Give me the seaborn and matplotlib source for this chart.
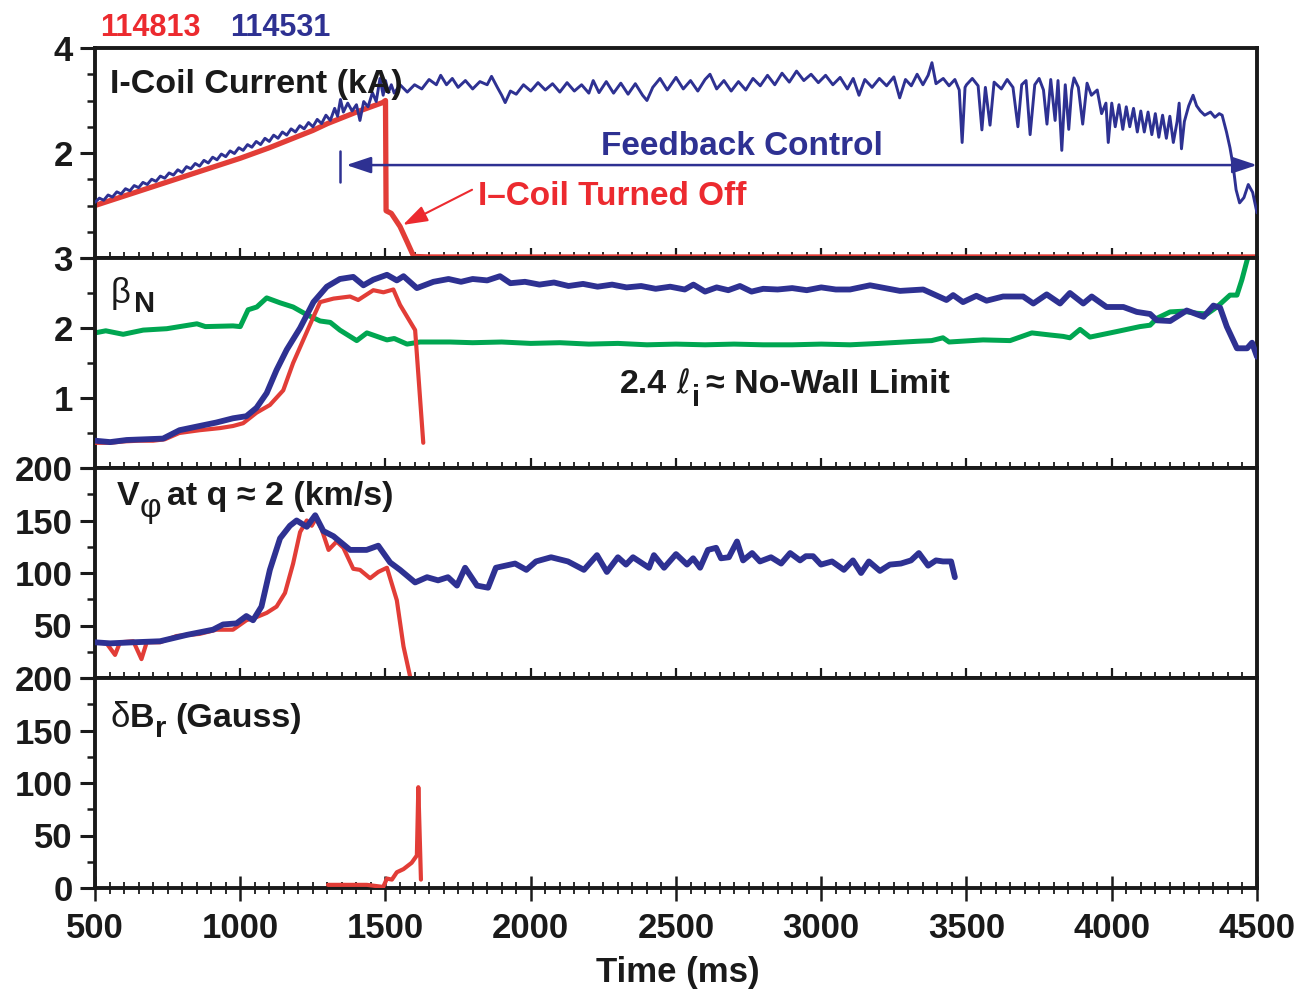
import numpy as np
import pandas as pd
import matplotlib
matplotlib.use("Agg")
import matplotlib.pyplot as plt
from matplotlib.ticker import MultipleLocator, FixedLocator, FixedFormatter
import seaborn as sns

# ---------------- data ----------------
shot_red = "114813"
shot_blue = "114531"

# Panel 1: I-coil current (kA)
icoil_red_t = [500, 550, 600, 650, 700, 750, 800, 850, 900, 950, 1000, 1050, 1100, 1150, 1200,
               1250, 1300, 1350, 1400, 1450, 1490, 1500, 1502, 1520, 1550, 1575, 1597, 1650, 4500]
icoil_red_v = [1.00, 1.09, 1.18, 1.27, 1.36, 1.45, 1.54, 1.63, 1.72, 1.81, 1.90, 2.00, 2.10, 2.21, 2.32,
               2.43, 2.56, 2.67, 2.78, 2.88, 2.96, 3.00, 0.90, 0.85, 0.60, 0.30, 0.03, 0.02, 0.02]

icoil_blue_t = [500, 515, 530, 545, 560, 575, 590, 605, 620, 635, 650, 665, 680, 695, 710, 725, 740,
                755, 770, 785, 800, 815, 830, 845, 860, 875, 890, 905, 920, 935, 950, 965, 980, 995,
                1010, 1025, 1040, 1055, 1070, 1085, 1100, 1115, 1130, 1145, 1160, 1175, 1190, 1205,
                1220, 1235, 1250, 1265, 1280, 1295, 1310, 1325, 1335, 1345, 1355, 1370, 1385, 1400,
                1412, 1425, 1440, 1455, 1468, 1481, 1492, 1500, 1510, 1520, 1530, 1550, 1575, 1600,
                1625, 1650, 1675, 1690, 1710, 1730, 1750, 1775, 1800, 1825, 1850, 1865, 1885, 1900,
                1912, 1930, 1950, 1975, 2000, 2025, 2050, 2075, 2100, 2125, 2150, 2175, 2200, 2215,
                2235, 2260, 2285, 2310, 2335, 2360, 2385, 2400, 2420, 2445, 2470, 2500, 2525, 2550,
                2575, 2600, 2617, 2640, 2665, 2690, 2715, 2740, 2765, 2790, 2815, 2840, 2865, 2890,
                2915, 2940, 2965, 2990, 3015, 3040, 3065, 3090, 3110, 3130, 3150, 3175, 3200, 3225,
                3250, 3270, 3290, 3310, 3330, 3350, 3368, 3381, 3395, 3420, 3440, 3460, 3475, 3485,
                3495, 3500, 3520, 3540, 3553, 3565, 3581, 3595, 3620, 3640, 3660, 3677, 3690, 3705,
                3719, 3735, 3750, 3765, 3777, 3790, 3805, 3815, 3828, 3840, 3852, 3862, 3870, 3885,
                3900, 3915, 3930, 3950, 3965, 3980, 3988, 4000, 4012, 4025, 4038, 4050, 4062, 4075,
                4088, 4100, 4112, 4125, 4138, 4150, 4162, 4175, 4188, 4200, 4212, 4225, 4232, 4240,
                4250, 4265, 4280, 4292, 4305, 4320, 4340, 4355, 4370, 4380, 4395, 4407, 4418, 4428,
                4440, 4455, 4470, 4485, 4500]
icoil_blue_v = [1.06, 1.14, 1.10, 1.20, 1.16, 1.26, 1.22, 1.32, 1.28, 1.38, 1.34, 1.44, 1.40, 1.50, 1.46, 1.56, 1.52,
                1.62, 1.58, 1.68, 1.63, 1.74, 1.70, 1.80, 1.75, 1.86, 1.81, 1.92, 1.87, 1.98, 1.93, 2.04, 1.99, 2.10,
                2.05, 2.16, 2.11, 2.22, 2.16, 2.28, 2.22, 2.34, 2.28, 2.40, 2.34, 2.46, 2.40, 2.52,
                2.46, 2.58, 2.50, 2.64, 2.56, 2.72, 2.62, 2.85, 2.70, 3.02, 2.78, 2.95, 2.80, 2.92,
                2.62, 2.98, 2.88, 3.15, 2.98, 3.42, 3.10, 3.38, 3.15, 3.30, 3.14, 3.30, 3.16, 3.30,
                3.22, 3.40, 3.30, 3.48, 3.30, 3.42, 3.25, 3.38, 3.22, 3.36, 3.30, 3.46, 3.25, 3.10,
                2.96, 3.18, 3.12, 3.30, 3.18, 3.34, 3.20, 3.32, 3.16, 3.34, 3.18, 3.30, 3.14, 3.38,
                3.15, 3.36, 3.14, 3.33, 3.12, 3.32, 3.10, 3.00, 3.25, 3.42, 3.20, 3.44, 3.22, 3.38,
                3.18, 3.40, 3.50, 3.22, 3.38, 3.18, 3.36, 3.20, 3.42, 3.28, 3.48, 3.30, 3.52, 3.35,
                3.56, 3.38, 3.50, 3.34, 3.48, 3.30, 3.44, 3.22, 3.42, 3.10, 3.40, 3.25, 3.42, 3.28,
                3.45, 3.05, 3.40, 3.28, 3.50, 3.30, 3.48, 3.72, 3.32, 3.42, 3.28, 3.40, 3.20, 2.20,
                3.25, 3.30, 3.42, 3.28, 2.44, 3.25, 2.53, 3.35, 3.22, 3.40, 3.25, 2.50, 3.30, 3.38,
                2.35, 3.30, 3.42, 3.20, 2.55, 3.40, 2.62, 3.38, 2.05, 3.30, 2.45, 3.20, 3.43, 3.25,
                2.55, 3.33, 3.10, 3.20, 2.75, 2.95, 2.20, 2.95, 2.50, 2.92, 2.45, 2.88, 2.50, 2.85,
                2.40, 2.80, 2.40, 2.78, 2.35, 2.75, 2.30, 2.72, 2.28, 2.70, 2.20, 2.60, 2.95, 2.08,
                2.60, 2.90, 3.10, 2.90, 2.80, 2.72, 2.78, 2.68, 2.75, 2.72, 2.40, 2.10, 1.75, 1.30,
                1.05, 1.15, 1.40, 1.25, 0.86]

# Panel 2: beta_N and 2.4 li
betan_red_t = [500, 550, 600, 650, 700, 740, 790, 860, 930, 975, 1010, 1056, 1102, 1148, 1182, 1217,
               1252, 1275, 1321, 1378, 1406, 1458, 1493, 1527, 1550, 1602, 1630]
betan_red_v = [0.36, 0.36, 0.38, 0.39, 0.39, 0.41, 0.50, 0.54, 0.57, 0.60, 0.64, 0.79, 0.90, 1.11, 1.50, 1.83,
               2.16, 2.37, 2.42, 2.45, 2.40, 2.54, 2.51, 2.55, 2.33, 1.97, 0.36]

betan_blue_t = [500, 552, 609, 734, 791, 860, 918, 975, 1021, 1056, 1091, 1125, 1160, 1206, 1252, 1298,
                1343, 1389, 1424, 1458, 1505, 1539, 1562, 1608, 1665, 1717, 1760, 1800, 1850, 1894, 1930,
                1980, 2030, 2080, 2130, 2180, 2230, 2280, 2330, 2380, 2430, 2480, 2530, 2560, 2600, 2640,
                2680, 2720, 2760, 2800, 2850, 2900, 2950, 3000, 3050, 3099, 3168, 3271, 3351, 3431, 3454,
                3488, 3534, 3569, 3626, 3695, 3730, 3776, 3822, 3856, 3902, 3931, 3982, 4040, 4086, 4132,
                4155, 4201, 4258, 4316, 4350, 4373, 4396, 4431, 4466, 4483, 4500]
betan_blue_v = [0.39, 0.37, 0.40, 0.42, 0.54, 0.60, 0.65, 0.71, 0.74, 0.86, 1.07, 1.40, 1.69, 2.00, 2.37, 2.59,
                2.70, 2.73, 2.61, 2.69, 2.76, 2.68, 2.74, 2.57, 2.66, 2.70, 2.66, 2.70, 2.68, 2.74, 2.64,
                2.66, 2.62, 2.65, 2.60, 2.63, 2.59, 2.62, 2.58, 2.60, 2.56, 2.59, 2.55, 2.62, 2.52, 2.58,
                2.54, 2.60, 2.52, 2.56, 2.55, 2.57, 2.54, 2.58, 2.55, 2.55, 2.61, 2.53, 2.55, 2.40, 2.47,
                2.37, 2.46, 2.39, 2.45, 2.45, 2.35, 2.48, 2.35, 2.50, 2.35, 2.45, 2.30, 2.30, 2.23, 2.20,
                2.11, 2.10, 2.25, 2.16, 2.32, 2.29, 2.02, 1.71, 1.71, 1.79, 1.59]

li_t = [500, 537, 597, 666, 747, 851, 880, 975, 1000, 1027, 1057, 1091, 1137, 1182, 1229, 1275, 1310,
        1343, 1401, 1436, 1505, 1530, 1574, 1619, 1722, 1800, 1900, 2000, 2100, 2200, 2300, 2400, 2500,
        2600, 2700, 2800, 2900, 3000, 3099, 3200, 3329, 3380, 3419, 3440, 3557, 3650, 3725, 3788, 3833,
        3856, 3891, 3925, 4018, 4097, 4132, 4156, 4201, 4246, 4294, 4328, 4362, 4407, 4431, 4448, 4466,
        4472]
li_v = [1.93, 1.96, 1.91, 1.97, 1.99, 2.06, 2.02, 2.03, 2.02, 2.26, 2.30, 2.43, 2.36, 2.30, 2.19, 2.10, 2.08,
        1.97, 1.82, 1.93, 1.83, 1.85, 1.77, 1.80, 1.80, 1.79, 1.80, 1.78, 1.79, 1.77, 1.78, 1.76, 1.77,
        1.76, 1.77, 1.76, 1.76, 1.77, 1.76, 1.78, 1.81, 1.82, 1.86, 1.80, 1.83, 1.82, 1.93, 1.90, 1.88,
        1.86, 1.98, 1.87, 1.95, 2.02, 2.04, 2.14, 2.23, 2.24, 2.21, 2.20, 2.30, 2.47, 2.47, 2.69, 2.97,
        3.05]

# Panel 3: toroidal rotation at q~2 (km/s)
vphi_red_t = [500, 540, 569, 586, 632, 660, 678, 724, 781, 860, 918, 975, 1021, 1056, 1091, 1125, 1154,
              1182, 1206, 1229, 1246, 1263, 1281, 1304, 1332, 1355, 1389, 1412, 1447, 1475, 1505, 1539,
              1562, 1585]
vphi_red_v = [34, 33, 22, 34, 35, 18, 34, 34, 40, 42, 46, 46, 55, 58, 62, 68, 81,
              109, 139, 150, 145, 153, 141, 122, 130, 124, 104, 103, 95, 101, 105, 74,
              30, 1]

vphi_blue_t = [500, 552, 632, 724, 815, 906, 941, 987, 1021, 1044, 1073, 1102, 1137, 1171, 1194, 1229,
               1258, 1286, 1321, 1378, 1435, 1475, 1516, 1550, 1602, 1643, 1681, 1715, 1746, 1774, 1815,
               1853, 1880, 1946, 1985, 2018, 2070, 2128, 2183, 2228, 2262, 2300, 2328, 2352, 2407, 2424,
               2459, 2500, 2538, 2559, 2583, 2610, 2638, 2655, 2682, 2710, 2731, 2762, 2789, 2827, 2862,
               2893, 2927, 2947, 2972, 2999, 3037, 3078, 3109, 3137, 3164, 3202, 3236, 3274, 3309, 3336,
               3368, 3395, 3419, 3447, 3460]
vphi_blue_v = [34, 33, 34, 35, 41, 46, 51, 52, 59, 55, 68, 103, 133, 145, 150, 144,
               155, 140, 135, 122, 122, 126, 110, 103, 91, 96, 93, 96, 88, 105, 88,
               86, 105, 109, 103, 111, 115, 111, 103, 117, 101, 115, 108, 115, 105, 117,
               105, 118, 108, 114, 105, 122, 124, 114, 115, 130, 112, 119, 111, 115, 109,
               119, 112, 116, 116, 108, 111, 103, 112, 100, 111, 102, 108, 109, 112, 119,
               107, 112, 111, 111, 96]

# Panel 4: delta B_r (Gauss)
dbr_red_t = [1302, 1436, 1492, 1505, 1522, 1539, 1562, 1590, 1608, 1613, 1622]
dbr_red_v = [3, 3, 1, 9, 8, 15, 18, 24, 31, 96, 8]

xticks = [500, 1000, 1500, 2000, 2500, 3000, 3500, 4000, 4500]

# ---------------- style ----------------
RED = "#E23D37"
RED_TXT = "#EC2A2F"
BLUE = "#2E3192"
GREEN = "#00A651"

sns.set_theme(style="white")
plt.rcParams["font.family"] = ["Liberation Sans", "DejaVu Sans"]
plt.rcParams["font.weight"] = "bold"

W, H = 1300, 993
fig = plt.figure(figsize=(W / 100, H / 100), dpi=100)

left_px, right_px = 95, 1257
edges = [48, 258, 468, 678, 888]
axes = []
for i in range(4):
    top, bot = edges[i], edges[i + 1]
    ax = fig.add_axes([left_px / W, 1 - bot / H, (right_px - left_px) / W, (bot - top) / H])
    axes.append(ax)

ylims = [(0, 4), (0, 3), (0, 200), (0, 200)]
ymaj = [[0, 2, 4], [0, 1, 2, 3], [0, 50, 100, 150, 200], [0, 50, 100, 150, 200]]
ylab = [["", "2", "4"], ["", "1", "2", "3"], ["", "50", "100", "150", "200"],
        ["0", "50", "100", "150", "200"]]
yminor = [0.5, 0.5, 25, 25]

for i, ax in enumerate(axes):
    ax.set_xlim(500, 4500)
    ax.set_ylim(*ylims[i])
    ax.set_facecolor("white")
    for s in ax.spines.values():
        s.set_color("#1a1a1a")
        s.set_linewidth(2.8)
        s.set_visible(True)
    ax.xaxis.set_major_locator(FixedLocator(xticks))
    ax.xaxis.set_minor_locator(MultipleLocator(50))
    ax.yaxis.set_major_locator(FixedLocator(ymaj[i]))
    ax.yaxis.set_major_formatter(FixedFormatter(ylab[i]))
    ax.yaxis.set_minor_locator(MultipleLocator(yminor[i]))
    ax.tick_params(axis="y", which="major", direction="out", length=11, width=2.2,
                   labelsize=25, pad=5, colors="#1a1a1a", left=True, right=False)
    ax.tick_params(axis="y", which="minor", direction="out", length=5.5, width=1.8,
                   left=True, right=False, colors="#1a1a1a")
    if i < 3:
        ax.tick_params(axis="x", which="major", direction="in", length=7.5, width=1.6,
                       labelbottom=False, bottom=True, top=False, colors="#1a1a1a")
        ax.tick_params(axis="x", which="minor", direction="in", length=4, width=1.3,
                       bottom=True, top=False, colors="#1a1a1a")
    else:
        ax.tick_params(axis="x", which="major", direction="inout", length=18, width=1.8,
                       labelsize=25, pad=8, bottom=True, top=False, colors="#1a1a1a")
        ax.tick_params(axis="x", which="minor", direction="inout", length=8, width=1.3,
                       bottom=True, top=False, colors="#1a1a1a")
    for lab in ax.get_yticklabels() + ax.get_xticklabels():
        lab.set_fontweight("bold")
    ax.set_xlabel("")
    ax.set_ylabel("")
    ax.grid(False)


def line(ax, t, v, color, lw, z=2):
    df = pd.DataFrame({"t": t, "v": v})
    sns.lineplot(data=df, x="t", y="v", ax=ax, color=color, lw=lw, estimator=None,
                 sort=False, legend=False, zorder=z)
    ax.set_xlabel("")
    ax.set_ylabel("")


# Panel 1
ax1 = axes[0]
line(ax1, icoil_red_t, icoil_red_v, RED, 3.8, z=2)
line(ax1, icoil_blue_t, icoil_blue_v, BLUE, 2.1, z=3)
# Feedback control arrow
ax1.plot([1343, 1343], [1.45, 2.03], color=BLUE, lw=1.8, zorder=4)
ax1.annotate("", xy=(4500, 1.77), xytext=(1365, 1.77),
             arrowprops=dict(arrowstyle="<|-|>,head_length=15,head_width=5", mutation_scale=1,
                             color=BLUE, lw=1.8, shrinkA=0, shrinkB=0), zorder=4)
# I-coil turned off arrow
ax1.annotate("", xy=(1560, 0.63), xytext=(1798, 1.30),
             arrowprops=dict(arrowstyle="-|>,head_length=15,head_width=5", mutation_scale=1,
                             color=RED_TXT, lw=1.5, shrinkA=0, shrinkB=0), zorder=4)

# Panel 2
ax2 = axes[1]
line(ax2, li_t, li_v, GREEN, 3.6, z=2)
line(ax2, betan_red_t, betan_red_v, RED, 3.0, z=3)
line(ax2, betan_blue_t, betan_blue_v, BLUE, 4.2, z=4)

# Panel 3
ax3 = axes[2]
line(ax3, vphi_red_t, vphi_red_v, RED, 3.0, z=3)
line(ax3, vphi_blue_t, vphi_blue_v, BLUE, 4.2, z=4)

# Panel 4
ax4 = axes[3]
line(ax4, dbr_red_t, dbr_red_v, RED, 3.0, z=3)


def ftext(px, py, s, size=25, weight="bold", color="#1a1a1a", ha="left", family=None, style="normal"):
    kw = {}
    if family is not None:
        kw["family"] = family
    fig.text(px / W, 1 - py / H, s, fontsize=size, fontweight=weight, color=color, ha=ha,
             va="baseline", style=style, **kw)


# header shot numbers
ftext(100, 36, shot_red, size=22, color=RED_TXT)
ftext(230, 36, shot_blue, size=22, color=BLUE)

# panel labels
ftext(110, 93, "I-Coil Current (kA)", size=24.5)
ftext(601, 155, "Feedback Control", size=24, color=BLUE)
ftext(478, 205, "I\u2013Coil Turned Off", size=24, color=RED_TXT)

ftext(111, 303, "\u03b2", size=25, weight="normal")
ftext(134, 312, "N", size=21)

ftext(620, 393, "2.4", size=24.5)
ftext(676, 393, "\u2113", size=24, weight="normal", family=["DejaVu Sans"])
ftext(692, 406, "i", size=21)
ftext(706, 393, "\u2248 No-Wall Limit", size=24.5)

ftext(117, 505, "V", size=24.5)
ftext(140, 517, "\u03c6", size=24, weight="normal")
ftext(167, 505, "at q \u2248 2 (km/s)", size=24.5)

ftext(111, 727, "\u03b4", size=25, weight="normal")
ftext(130, 727, "B", size=24.5)
ftext(155, 737, "r", size=21)
ftext(175, 727, "(Gauss)", size=24.5)

ftext(678, 982, "Time (ms)", size=25, ha="center")

fig.savefig("out.png", dpi=100)
